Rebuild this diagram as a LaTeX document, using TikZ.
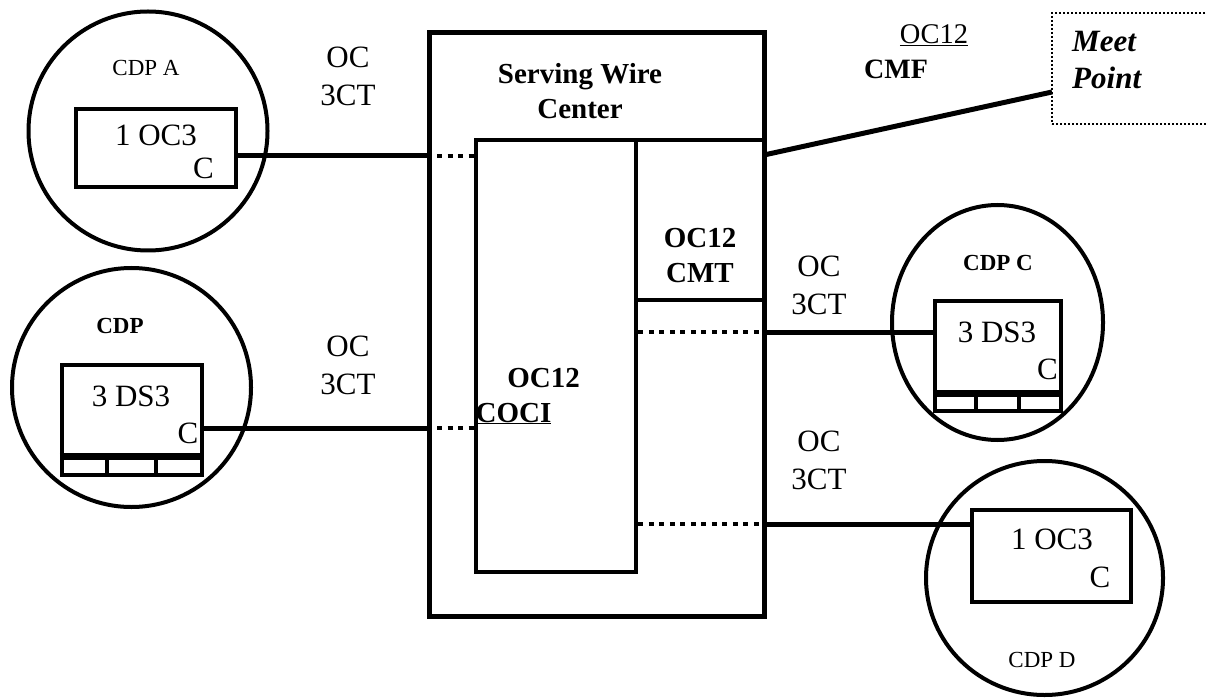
\documentclass[tikz,border=0pt]{standalone}
\usepackage{fontspec}
\setmainfont{Liberation Serif}
\usepackage{tikz}
\usetikzlibrary{shapes.geometric}

\begin{document}
\begin{tikzpicture}[x=1pt, y=-1pt,
    site/.style={draw, line width=4pt, ellipse, inner sep=0pt},
    unitbox/.style={draw, line width=4.5pt, rectangle, inner sep=0pt},
    wire/.style={line width=5pt},
    dotwire/.style={line width=4.5pt, dash pattern=on 5pt off 5.5pt},
    big/.style={font=\fontsize{31}{38}\selectfont, inner sep=0pt},
    bigbold/.style={font=\fontsize{29}{35}\selectfont\bfseries, inner sep=0pt},
    small/.style={font=\fontsize{23}{27}\selectfont, inner sep=0pt}]
\useasboundingbox (0,0) rectangle (1206,700);

% Serving wire center
\node[unitbox, line width=5pt, minimum width=335pt, minimum height=583pt] (swc) at (596.5,324.5) {};
\node[bigbold, align=center, anchor=north] (swclbl) at (580,63) {Serving Wire\\Center};
\node[unitbox, minimum width=160pt, minimum height=432pt] (coci) at (556,356) {};
\node[unitbox, minimum width=128pt, minimum height=160pt] (cmt) at (700,220) {};
\node[bigbold, align=center, anchor=north] (cmtlbl) at (700,228) {OC12\\CMT};
\node[bigbold, anchor=base] (cocilbl) at (543.5,387) {OC12};
\node[bigbold, anchor=base] (cocilbltwo) at (513.5,422) {\underline{COCI}};

% CDP A
\node[site, minimum width=239pt, minimum height=239pt] (cdpa) at (148,131) {};
\node[small, anchor=base] (cdpalbl) at (146,76) {CDP A};
\node[unitbox, minimum width=160pt, minimum height=78pt] (boxa) at (156,148) {};
\node[big, anchor=base] at (156,146) {1 OC3};
\node[big, anchor=base] at (203.5,179) {C};

% CDP B
\node[site, minimum width=239pt, minimum height=239pt] (cdpb) at (131.5,387.5) {};
\node[small, font=\fontsize{23}{27}\selectfont\bfseries, anchor=base] (cdpblbl) at (120,333) {CDP};
\node[unitbox, minimum width=140pt, minimum height=110pt] (boxb) at (132,420) {};
\node[big, anchor=base] at (131,406) {3 DS3};
\node[big, anchor=base] at (188,443) {C};
\draw[line width=7pt] (boxb.west |- 0,456.5) -- (boxb.east |- 0,456.5);
\foreach \x in {107,156} {
    \draw[line width=4pt] (\x,458) -- (\x,475);
}

% CDP C
\node[site, minimum width=211pt, minimum height=235pt] (cdpc) at (997.5,322.5) {};
\node[small, font=\fontsize{23}{27}\selectfont\bfseries, anchor=base] (cdpclbl) at (998,271) {CDP C};
\node[unitbox, minimum width=126pt, minimum height=110pt] (boxc) at (998,356) {};
\node[big, anchor=base] at (997,342) {3 DS3};
\node[big, anchor=base] at (1047.5,379) {C};
\draw[line width=7pt] (boxc.west |- 0,393) -- (boxc.east |- 0,393);
\foreach \x in {976,1019} {
    \draw[line width=4pt] (\x,395) -- (\x,411);
}

% CDP D
\node[site, minimum width=237pt, minimum height=234pt] (cdpd) at (1044.5,578) {};
\node[small, anchor=base] (cdpdlbl) at (1042,667) {CDP D};
\node[unitbox, minimum width=159pt, minimum height=92pt] (boxd) at (1051.5,556) {};
\node[big, anchor=base] at (1052,549) {1 OC3};
\node[big, anchor=base] at (1100,587) {C};

% Meet point
\node[draw, line width=2pt, dash pattern=on 2pt off 2pt, minimum width=163pt, minimum height=111pt, inner sep=0pt] (meet) at (1133.5,68.5) {};
\node[big, font=\fontsize{31}{37}\selectfont\bfseries\itshape, align=left, anchor=north west] (meetlbl) at (1072,31) {Meet\\Point};

% Ports
\coordinate (aout) at (236,156);
\coordinate (bout) at (202,428);
\coordinate (cin) at (935,332);
\coordinate (din) at (972,524);
\coordinate (swcout) at (764,155);
\coordinate (meetin) at (1052,92);

% Links
\draw[wire] (aout) -- (aout -| swc.west);
\draw[dotwire] (aout -| swc.west) -- (aout -| coci.west);
\draw[wire] (bout) -- (bout -| swc.west);
\draw[dotwire] (bout -| swc.west) -- (bout -| coci.west);
\draw[wire] (cin -| swc.east) -- (cin);
\draw[dotwire] (cin -| coci.east) -- (cin -| swc.east);
\draw[wire] (din -| swc.east) -- (din);
\draw[dotwire] (din -| coci.east) -- (din -| swc.east);
\draw[wire] (swcout) -- (meetin);

% Labels
\node[big, align=center, anchor=north] (oca) at (348,47) {OC\\3CT};
\node[big, align=center, anchor=north] (ocb) at (348,336) {OC\\3CT};
\node[big, align=center, anchor=north] (occ) at (819,256) {OC\\3CT};
\node[big, align=center, anchor=north] (ocd) at (819,431) {OC\\3CT};
\node[big, font=\fontsize{28.5}{34}\selectfont, anchor=base] (cmfup) at (934,44) {\underline{OC12}};
\node[bigbold, font=\fontsize{28}{34}\selectfont\bfseries, anchor=base] (cmflbl) at (896,79) {CMF};
\end{tikzpicture}
\end{document}
